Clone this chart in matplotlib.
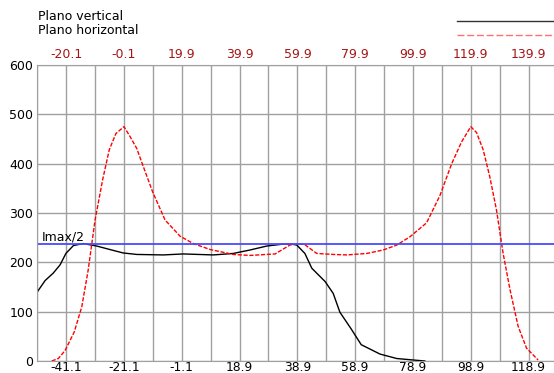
import matplotlib.pyplot as plt
from matplotlib.lines import Line2D

# perfil vertical
xv = [-51.1, -48.4, -45.6, -43.2, -41.2, -38.6, -35.2, -30.5, -26.0, -21.4,
      -16.7, -7.5, -0.6, 9.8, 16.7, 22.5, 28.3, 34.0, 36.9, 38.7,
      41.5, 43.9, 48.5, 51.3, 53.6, 57.4, 61.0, 67.5, 73.3, 79.0, 83.0]
yv = [140, 163, 178, 195, 218, 234, 238, 233, 226, 219,
      216, 215, 217, 215, 218, 225, 233, 237, 237, 235,
      218, 188, 161, 137, 99, 66, 33, 14, 5, 2, 0]

# perfil horizontal
xh = [-46.1, -43.8, -41.5, -38.3, -35.7, -33.5, -31.1, -28.5, -26.2, -23.9,
      -21.1, -19.0, -16.7, -14.4, -11.2, -6.9, -1.7, 2.9, 8.7, 16.7,
      22.5, 31.2, 36.3, 38.4, 41.2, 45.6, 51.3, 56.0, 62.9, 68.6,
      73.3, 77.9, 83.6, 88.2, 92.3, 95.7, 98.9, 100.9, 103.2, 105.5,
      107.8, 110.1, 112.5, 115.3, 118.2, 122.2]
yh = [0, 5, 21, 59, 110, 184, 286, 367, 428, 461,
      475, 455, 431, 394, 343, 286, 253, 238, 226, 216,
      214, 217, 235, 237, 237, 218, 216, 215, 218, 225,
      235, 252, 280, 335, 400, 444, 475, 463, 428, 373,
      306, 218, 144, 70, 26, 2]

imax = 475
bottom_ticks = [-41.1, -21.1, -1.1, 18.9, 38.9, 58.9, 78.9, 98.9, 118.9]
grid_x = [-51.1 + 10 * k for k in range(18)]
offset_top = 21

plt.rcParams['font.family'] = 'DejaVu Sans'
plt.rcParams['font.size'] = 9
plt.rcParams['axes.unicode_minus'] = False

fig = plt.figure(figsize=(5.54, 3.73), dpi=100)
ax = fig.add_axes([0.0673, 0.0322, 0.9327, 0.7935])

# rejilla vertical cada 10 unidades
for gx in grid_x:
    ax.axvline(gx, color='#a0a0a0', lw=1, zorder=0)

ax.plot(xv, yv, color='black', lw=1)
ax.plot(xh, yh, color='red', lw=1, dashes=(3, 1.2))
ax.axhline(imax / 2, color='#4a4aff', lw=1.3)
ax.text(-49.6, imax / 2 + 1, 'Imax/2', va='bottom', ha='left')

ax.set_xlim(-51.1, 127.7)
ax.set_ylim(0, 600)
ax.set_yticks(range(0, 601, 100))
ax.set_xticks(bottom_ticks)
ax.grid(True, axis='y', color='#a0a0a0', lw=1)
ax.set_axisbelow(True)
ax.tick_params(axis='y', length=0, pad=3)
ax.tick_params(axis='x', length=0, pad=0, labelsize=8.8)

for s in ('left', 'bottom', 'top'):
    ax.spines[s].set_color('#a0a0a0')
ax.spines['right'].set_visible(False)

top = ax.secondary_xaxis('top', functions=(lambda x: x + offset_top,
                                           lambda x: x - offset_top))
top.set_xticks([t + offset_top for t in bottom_ticks])
top.tick_params(length=0, pad=3, colors='#a31515')
top.spines['top'].set_visible(False)

# leyenda
fig.text(0.0686, 0.957, 'Plano vertical', va='center', ha='left')
fig.text(0.0686, 0.917, 'Plano horizontal', va='center', ha='left')
fig.add_artist(Line2D([0.825, 1.0], [0.945, 0.945], color='#333333', lw=1))
fig.add_artist(Line2D([0.825, 1.0], [0.905, 0.905], color='#ff7070', lw=1,
                      dashes=(5, 2)))

fig.savefig('out.png', dpi=100)
